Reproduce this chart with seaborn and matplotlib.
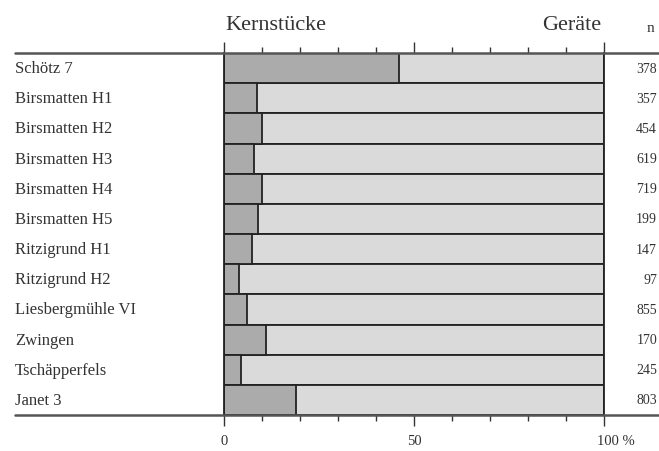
import matplotlib as mpl
import matplotlib.pyplot as plt
import seaborn as sns
import pandas as pd
from matplotlib.lines import Line2D
from matplotlib.ticker import MultipleLocator
from matplotlib.transforms import ScaledTranslation

sites = ['Schötz 7', 'Birsmatten H1', 'Birsmatten H2', 'Birsmatten H3',
         'Birsmatten H4', 'Birsmatten H5', 'Ritzigrund H1', 'Ritzigrund H2',
         'Liesbergmühle VI', 'Zwingen', 'Tschäpperfels', 'Janet 3']
kernstuecke = [46, 8.7, 10, 8, 10, 9, 7.3, 4, 6, 11, 4.4, 19]  # % Kernstücke
total = [100] * 12
n_counts = [378, 357, 454, 619, 719, 199, 147, 97, 855, 170, 245, 803]

df = pd.DataFrame({'site': sites, 'kern': kernstuecke, 'total': total})

sns.set_style('white')
plt.rcParams['font.family'] = ['Liberation Serif', 'DejaVu Serif']

fig = plt.figure(figsize=(6.59, 4.52), dpi=100)
ax = fig.add_axes([224/659, 1 - 416/452, 380/659, 362/452])

# Geräte = full bar, Kernstücke drawn on top
sns.barplot(data=df, x='total', y='site', orient='h', color='#dadada',
            width=1.0, edgecolor='#222222', linewidth=1.3, ax=ax, saturation=1)
sns.barplot(data=df, x='kern', y='site', orient='h', color='#ababab',
            width=1.0, edgecolor='#222222', linewidth=1.3, ax=ax, saturation=1)

ax.set_xlim(0, 100)
ax.set_ylim(11.5, -0.5)
ax.set_xlabel('')
ax.set_ylabel('')
ax.set_yticks([])

for s in ['top', 'bottom']:
    ax.spines[s].set_visible(False)
for s in ['left', 'right']:
    ax.spines[s].set_color('#222222')
    ax.spines[s].set_linewidth(1.3)

ax.xaxis.set_minor_locator(MultipleLocator(10))
ax.tick_params(axis='x', which='both', top=True, bottom=True, direction='out',
               color='#333333', width=1.0)
ax.tick_params(axis='x', which='major', length=8, labelsize=10.5, pad=6)
ax.tick_params(axis='x', which='minor', length=4)
ax.set_xticks([0, 50, 100])
ax.set_xticklabels(['0', '50', '100 %'], color='#333333')
last = ax.get_xticklabels()[-1]
last.set_horizontalalignment('left')
last.set_transform(last.get_transform() + ScaledTranslation(-7/100, 0, fig.dpi_scale_trans))

# long horizontal rules across the whole table
for yy in [54, 416]:
    fig.add_artist(Line2D([15/659, 1.0], [1 - yy/452, 1 - yy/452],
                          color='#555555', linewidth=1.8))

# row labels and counts
for i, (name, n) in enumerate(zip(sites, n_counts)):
    ax.text(-0.55, i, name, transform=ax.get_yaxis_transform(),
            ha='left', va='center', fontsize=12, color='#333333')
    ax.text((657 - 224) / 380, i, str(n), transform=ax.get_yaxis_transform(),
            ha='right', va='center', fontsize=10, color='#333333')

fig.text(225/659, 1 - 26/452, 'Kernstücke', fontsize=16, color='#333333',
         ha='left', va='center')
fig.text(601/659, 1 - 26/452, 'Geräte', fontsize=16, color='#333333',
         ha='right', va='center')
fig.text(647/659, 1 - 28/452, 'n', fontsize=11, color='#333333',
         ha='left', va='center')

fig.savefig('out.png', dpi=100)
